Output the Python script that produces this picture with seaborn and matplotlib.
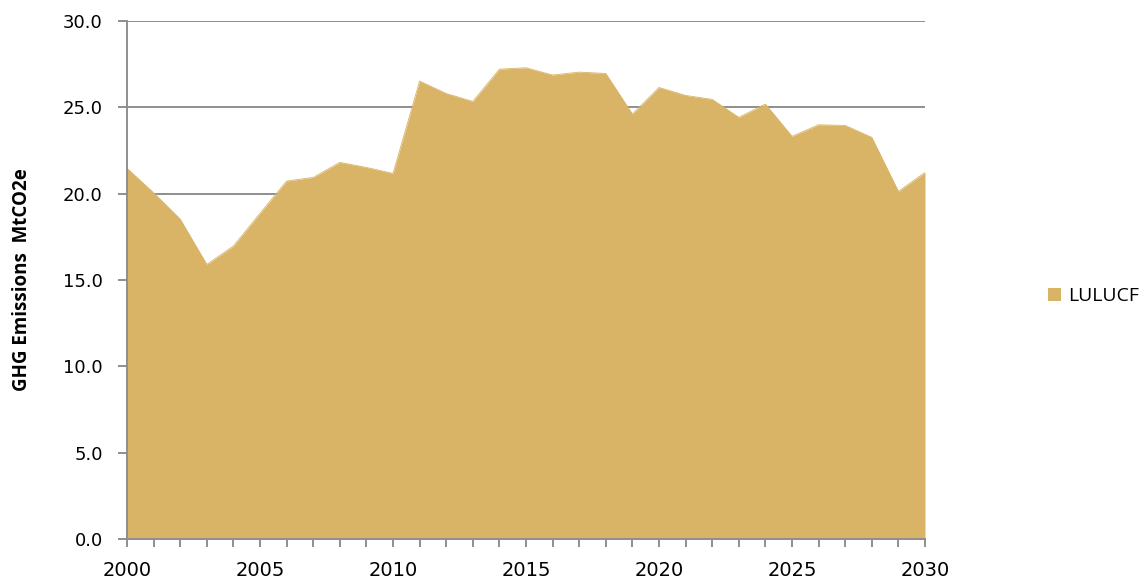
import matplotlib
matplotlib.use("Agg")
import matplotlib.pyplot as plt
from matplotlib.ticker import MultipleLocator, FormatStrFormatter
from matplotlib.patches import Patch
import numpy as np
import pandas as pd
import seaborn as sns

# Annual LULUCF emissions, MtCO2e
years = list(range(2000, 2031))
lulucf = [21.47, 20.05, 18.53, 15.90, 16.97, 18.86, 20.73, 20.94, 21.81, 21.52,
          21.17, 26.52, 25.80, 25.34, 27.21, 27.29, 26.87, 27.04, 26.96, 24.61,
          26.15, 25.69, 25.46, 24.42, 25.19, 23.32, 23.99, 23.95, 23.26, 20.13,
          21.23]
y_ticks = [0, 5, 10, 15, 20, 25, 30]
x_ticks = [2000, 2005, 2010, 2015, 2020, 2025, 2030]
series_name = "LULUCF"
y_label = "GHG Emissions  MtCO2e"

df = pd.DataFrame({"year": years, "value": lulucf})

sns.set_theme(style="white")
plt.rcParams["font.family"] = ["DejaVu Sans"]

fill_color = "#D9B466"
axis_gray = "#8E8E8E"

fig = plt.figure(figsize=(11.45, 5.81), dpi=100)
ax = fig.add_axes([127 / 1145, 1 - 539 / 581, (925 - 127) / 1145, (539 - 21) / 581])

sns.lineplot(data=df, x="year", y="value", ax=ax, color=fill_color,
             linewidth=0.6, zorder=5)
ax.fill_between(df["year"], 0, df["value"], color=fill_color, linewidth=0, zorder=5)

ax.set_xlim(2000, 2030)
ax.set_ylim(0, 30)
ax.set_yticks(y_ticks)
ax.yaxis.set_major_formatter(FormatStrFormatter("%.1f"))
ax.set_xticks(x_ticks)
ax.xaxis.set_minor_locator(MultipleLocator(1))

ax.set_axisbelow(True)
ax.yaxis.grid(True, color=axis_gray, linewidth=1.4)

for side in ["top", "right"]:
    ax.spines[side].set_visible(False)
for side in ["left", "bottom"]:
    ax.spines[side].set_color(axis_gray)
    ax.spines[side].set_linewidth(1.4)
    ax.spines[side].set_zorder(6)

ax.tick_params(axis="y", which="major", direction="out", length=6.5, width=1.4,
               color=axis_gray, labelsize=13, labelcolor="black", pad=11, left=True)
ax.tick_params(axis="x", which="both", direction="out", length=6, width=1.4,
               color=axis_gray, bottom=True)
ax.tick_params(axis="x", which="major", labelsize=14, labelcolor="black", pad=10)

ax.set_xlabel("")
ax.set_ylabel(y_label, fontsize=13.5, fontweight="bold", family="Open Sans",
              labelpad=22, color="black")

handle = Patch(facecolor=fill_color, edgecolor="none", label=series_name)
leg = fig.legend(handles=[handle], loc="center left", bbox_to_anchor=(0.912, 0.49),
                 frameon=False, handlelength=0.65, handleheight=0.65,
                 handletextpad=0.4, borderaxespad=0.0, borderpad=0.2,
                 prop={"family": "Open Sans", "size": 14})
for t in leg.get_texts():
    t.set_color("black")

fig.savefig("out.png", dpi=100)
